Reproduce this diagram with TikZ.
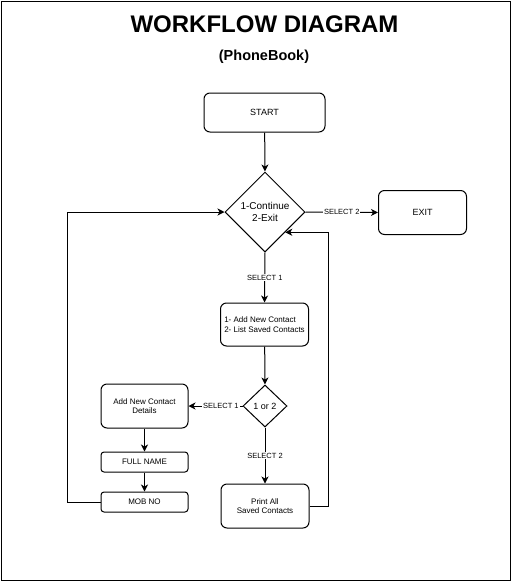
\documentclass[tikz,border=0pt]{standalone}
\usepackage{fontspec}
\setmainfont{Liberation Sans}
\usetikzlibrary{shapes.geometric,arrows.meta}
\begin{document}
\begin{tikzpicture}[x=1pt,y=-1pt,
  line width=1pt,
  box/.style={draw,rounded corners=6pt,inner sep=0pt,align=center},
  smallbox/.style={draw,rounded corners=3pt,inner sep=0pt,minimum width=87pt,minimum height=20pt,font=\fontsize{8}{9.6}\selectfont},
  dia/.style={draw,diamond,inner sep=0pt,align=center},
  arr/.style={-{Stealth[length=7pt,width=7pt,inset=2pt]}},
  lbl/.style={fill=white,inner sep=1pt,font=\fontsize{7.5}{9}\selectfont}
]
\useasboundingbox (0,0) rectangle (512,582);
\draw (1,1) rectangle (510.5,580.5);
\node (title) at (264.5,24) {\fontsize{24}{28}\selectfont\bfseries WORKFLOW DIAGRAM};
\node (sub) at (264,56.5) {\fontsize{14.5}{17}\selectfont\bfseries (PhoneBook)};

\node[box,minimum width=121pt,minimum height=39pt,font=\fontsize{9}{10.8}\selectfont] (start) at (264.5,112.5) {START};
\node[dia,minimum width=80pt,minimum height=80pt,font=\fontsize{10}{12}\selectfont] (d1) at (265,212) {1-Continue\\2-Exit};
\node[box,minimum width=88pt,minimum height=44pt,font=\fontsize{9}{10.8}\selectfont] (exit) at (422.5,212.5) {EXIT};
\node[box,minimum width=88pt,minimum height=43pt,align=left,font=\fontsize{8}{9.6}\selectfont] (menu) at (264.5,324.5) {1- Add New Contact\\2- List Saved Contacts};
\node[dia,minimum width=44pt,minimum height=42pt,font=\fontsize{9}{10.8}\selectfont] (d2) at (265,406) {1 or 2};
\node[box,minimum width=87pt,minimum height=44pt,font=\fontsize{8}{9.6}\selectfont] (add) at (144.5,406) {Add New Contact\\Details};
\node[smallbox] (full) at (144.5,462) {FULL NAME};
\node[smallbox] (mob) at (144.5,502) {MOB NO};
\node[box,minimum width=88pt,minimum height=44pt,font=\fontsize{8}{9.6}\selectfont] (print) at (265,506) {Print All\\Saved Contacts};

\draw[arr] (start) -- (d1.north);
\draw[arr] (d1.east) -- node[lbl] {SELECT 2} (exit.west);
\draw[arr] (d1.south) -- node[lbl] {SELECT 1} (menu.north);
\draw[arr] (menu) -- (d2.north);
\draw[arr] (d2.west) -- node[lbl,pos=0.4] {SELECT 1} (add.east);
\draw[arr] (d2.south) -- node[lbl] {SELECT 2} (print.north);
\draw[arr] (add) -- (full);
\draw[arr] (full) -- (mob);
\draw[arr] (print.east) -- ++(19,0) |- (d1.south east);
\draw[arr] (mob.west) -- ++(-33,0) |- (d1.west);
\end{tikzpicture}
\end{document}
